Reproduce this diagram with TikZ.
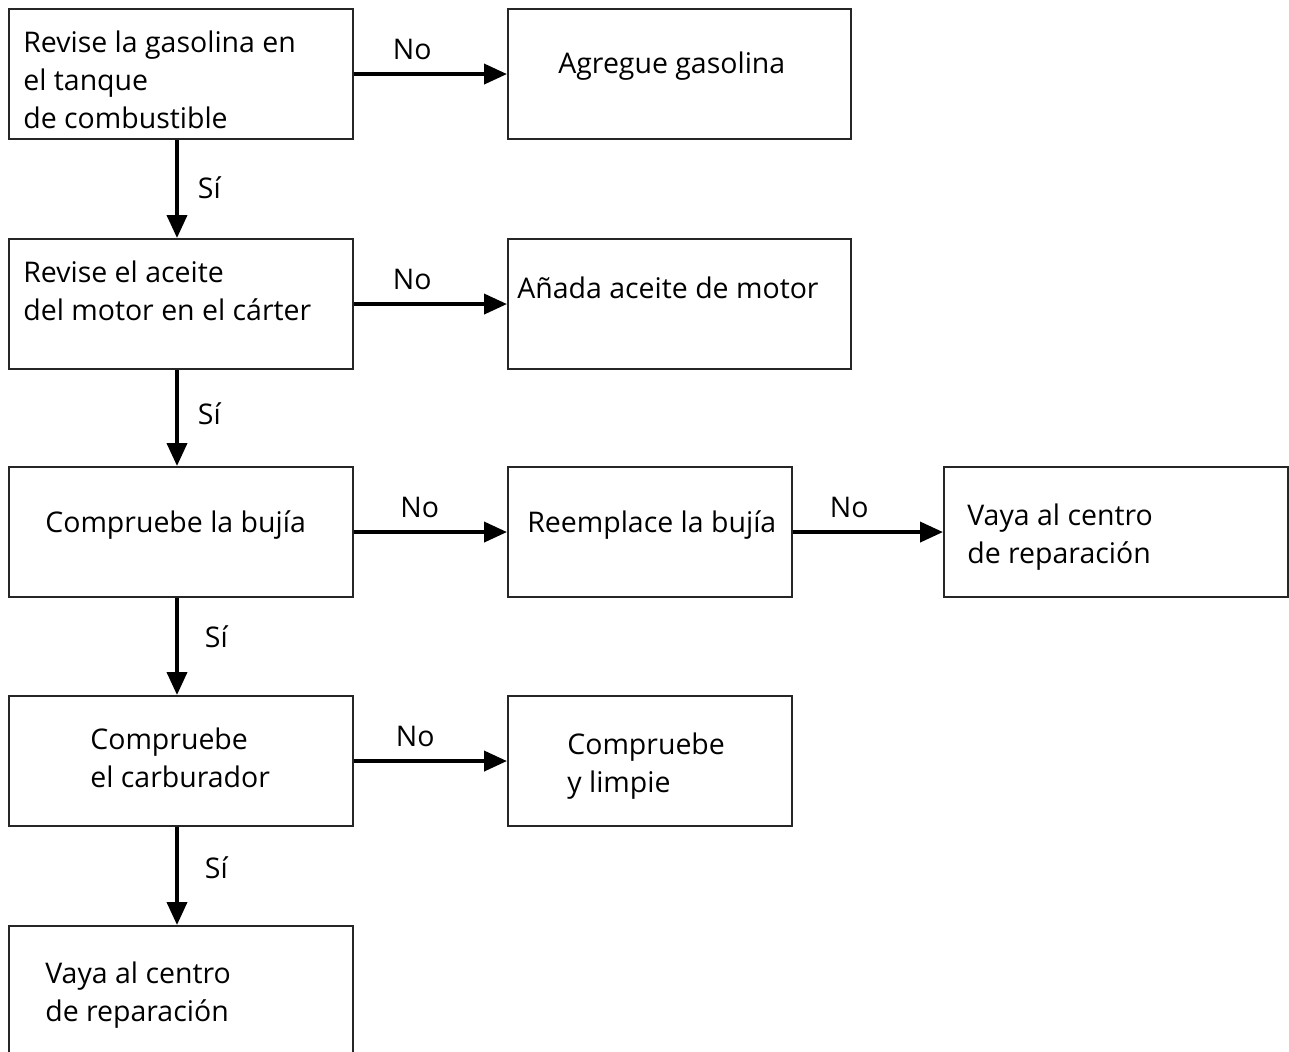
\documentclass[tikz,border=0pt]{standalone}
\usepackage{fontspec}
\setmainfont{Open Sans}
\usepackage{tikz}
\usetikzlibrary{arrows.meta, calc, positioning}

\newcommand{\flowfont}{\fontsize{16.2}{21.6}\selectfont}

\tikzset{
	box/.style={draw=black!85, line width=1.2pt, anchor=north west, inner sep=0pt, minimum height=2.6cm},
	wide/.style={box, minimum width=6.88cm},
	slim/.style={box, minimum width=5.68cm},
	txt/.style={anchor=west, inner sep=0pt, align=left, font=\flowfont},
	flow/.style={line width=2.2pt, -{Triangle[length=0.46cm, width=0.4cm]}},
	nolab/.style={above=0.24cm, inner sep=0pt, font=\flowfont},
	silab/.style={anchor=west, inner sep=0pt, font=\flowfont}
}

\begin{document}
\begin{tikzpicture}[x=0.02cm, y=-0.02cm]
					\useasboundingbox (0,0) rectangle (1289,1052);
					\clip (0,0) rectangle (1289,1052);

					\node[wide] (gas) at (8,8) {};
					\node[wide, minimum width=6.86cm] (addgas) at (507,8) {};
					\node[wide] (oil) at (8,238) {};
					\node[wide, minimum width=6.86cm] (addoil) at (507,238) {};
					\node[wide] (plug) at (8,466) {};
					\node[slim] (newplug) at (507,466) {};
					\node[wide] (shopA) at (943,466) {};
					\node[wide] (carb) at (8,695) {};
					\node[slim] (clean) at (507,695) {};
					\node[wide, minimum height=4cm] (shopB) at (8,925) {};

					\node[txt] (gasT) at (23,80) {Revise la gasolina en\\el tanque\\de combustible};
					\node[txt] (addgasT) at (558,66) {Agregue gasolina};
					\node[txt] (oilT) at (23,291) {Revise el aceite\\del motor en el cárter};
					\node[txt] (addoilT) at (517,288) {Añada aceite de motor};
					\node[txt] (plugT) at (45,525) {Compruebe la bujía};
					\node[txt] (newplugT) at (527,525) {Reemplace la bujía};
					\node[txt] (shopAT) at (967,537) {Vaya al centro\\de reparación};
					\node[txt] (carbT) at (90,758) {Compruebe\\el carburador};
					\node[txt] (cleanT) at (567,766) {Compruebe\\y limpie};
					\node[txt] (shopBT) at (45,995) {Vaya al centro\\de reparación};

					\draw[flow] (gas.east) -- (addgas.west) node[nolab, pos=0.38] (no1) {No};
					\draw[flow] (oil.east) -- (addoil.west) node[nolab, pos=0.38] (no2) {No};
					\draw[flow] (plug.east) -- (newplug.west) node[nolab, pos=0.43] (no3) {No};
					\draw[flow] (newplug.east) -- (shopA.west) node[nolab, pos=0.375] (no4) {No};
					\draw[flow] (carb.east) -- (clean.west) node[nolab, pos=0.40] (no5) {No};

					\draw[flow] (gas.south-|177,0) -- (oil.north-|177,0) node[silab, pos=0.49, xshift=0.38cm] (si1) {Sí};
					\draw[flow] (oil.south-|177,0) -- (plug.north-|177,0) node[silab, pos=0.46, xshift=0.38cm] (si2) {Sí};
					\draw[flow] (plug.south-|177,0) -- (carb.north-|177,0) node[silab, pos=0.40, xshift=0.52cm] (si3) {Sí};
					\draw[flow] (carb.south-|177,0) -- (shopB.north-|177,0) node[silab, pos=0.42, xshift=0.52cm] (si4) {Sí};
				\end{tikzpicture}
\end{document}
